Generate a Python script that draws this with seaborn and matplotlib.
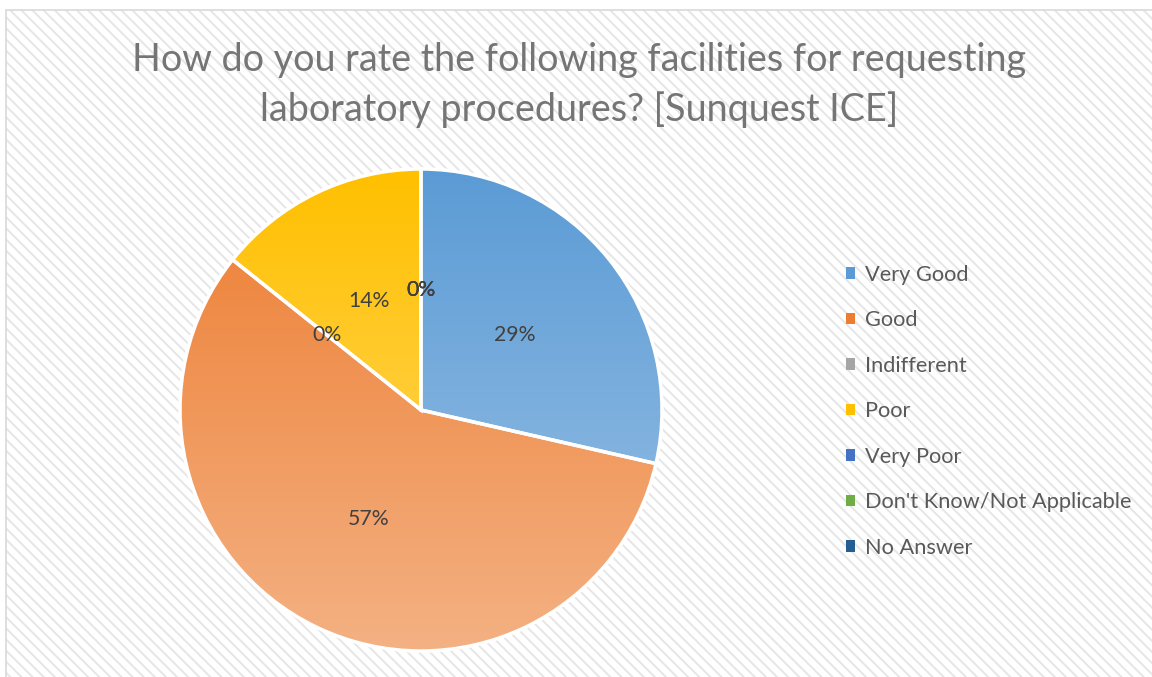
import numpy as np
import matplotlib
matplotlib.use("Agg")
import matplotlib.pyplot as plt
import matplotlib.patches as mpatches
from matplotlib.colors import LinearSegmentedColormap
import seaborn as sns

# data (7 responses)
categories = ["Very Good", "Good", "Indifferent", "Poor", "Very Poor",
              "Don't Know/Not Applicable", "No Answer"]
counts = [2, 4, 0, 1, 0, 0, 0]
title = "How do you rate the following facilities for requesting\nlaboratory procedures? [Sunquest ICE]"

colors = ["#5B9BD5", "#ED7D31", "#A5A5A5", "#FFC000", "#4472C4", "#70AD47", "#255E91"]
light = ["#9DC3E6", "#F4B183", "#C9C9C9", "#FFDA6E", "#8FAADC", "#A9D18E", "#5B8EC2"]

sns.set_theme(style="white")
plt.rcParams["font.family"] = ["Lato", "DejaVu Sans"]
plt.rcParams["hatch.linewidth"] = 1.4

W, H = 1152, 677
fig = plt.figure(figsize=(W / 100, H / 100), dpi=100)
fig.patch.set_facecolor("white")

# hatched chart area + border (runs off the bottom/right edge)
bg = mpatches.Rectangle((6 / W, -10 / H), 1160 / W, 677 / H, transform=fig.transFigure,
                        facecolor="white", edgecolor="#E6E6E6", hatch="\\\\\\", lw=0, zorder=-2)
fig.patches.append(bg)
border = mpatches.Rectangle((6 / W, -10 / H), 1160 / W, 677 / H, transform=fig.transFigure,
                            facecolor="none", edgecolor="#D9D9D9", lw=1.2, zorder=-1)
fig.patches.append(border)

# pie axes: centre (421, 410) px, radius 241 px
cx, cy, r = 421, 410, 241
m = 1.1
ax = fig.add_axes([(cx - r * m) / W, (H - cy - r * m) / H, 2 * r * m / W, 2 * r * m / H])
ax.patch.set_alpha(0)

wedges, texts, autotexts = ax.pie(
    counts, colors=colors, startangle=90, counterclock=False, radius=1,
    autopct=lambda p: f"{p:.0f}%", pctdistance=0.5,
    wedgeprops=dict(edgecolor="white", linewidth=2.5),
    textprops=dict(color="#404040", fontsize=15.3))
ax.set_xlim(-m, m)
ax.set_ylim(-m, m)
ax.set_aspect("equal")
ax.axis("off")

# vertical gradient fill clipped to each wedge
grad = np.linspace(0, 1, 256).reshape(-1, 1)
for w, c0, c1 in zip(wedges, colors, light):
    if w.theta2 - w.theta1 < 0.01:
        continue
    cmap = LinearSegmentedColormap.from_list("g", [c0, c1])
    im = ax.imshow(grad, cmap=cmap, extent=[-1, 1, -1, 1], origin="upper",
                   aspect="auto", zorder=1)
    im.set_clip_path(w)
    w.set_facecolor("none")
    w.set_zorder(2)
for t in autotexts:
    t.set_zorder(5)

fig.text(0.5023, 1 - 85 / H, title, ha="center", va="center", fontsize=27.2,
         color="#757575", linespacing=1.45)

handles = [mpatches.Rectangle((0, 0), 1, 1, facecolor=c, edgecolor="none") for c in colors]
leg = fig.legend(handles, categories, loc="upper left", bbox_to_anchor=(826 / W, 1 - 245 / H),
                 frameon=False, fontsize=15.7, labelcolor="#595959", handlelength=0.45,
                 handleheight=0.45, handletextpad=0.45, labelspacing=1.17)

fig.savefig("out.png", dpi=100)
